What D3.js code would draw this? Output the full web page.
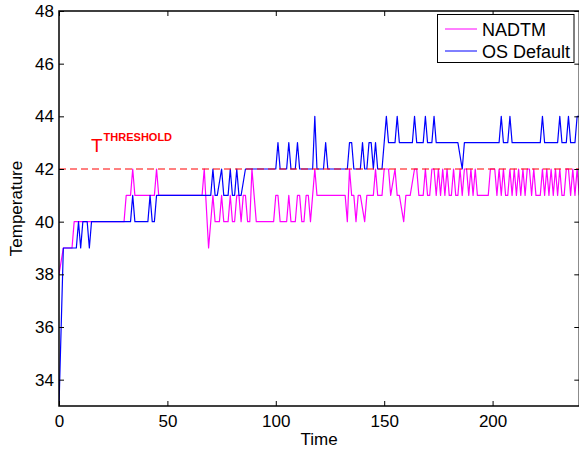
<!DOCTYPE html>
<html>
<head>
<meta charset="utf-8">
<script src="https://cdn.jsdelivr.net/npm/d3@7/dist/d3.min.js"></script>
<style>
  html, body { margin: 0; padding: 0; background: #fff; }
  svg { display: block; font-family: "Liberation Sans", Arial, Helvetica, sans-serif; }
</style>
</head>
<body>
<svg id="chart" width="579" height="451"></svg>
<script>
// ---- data: [time, temperature] ----
const xTicks = [0, 50, 100, 150, 200];
const yTicks = [34, 36, 38, 40, 42, 44, 46, 48];
const xDomain = [0, 240];
const yDomain = [33, 48];
const threshold = 42;
const seriesNames = ["NADTM", "OS Default"];

const nadtm = [[0,38],[2,39],[6,39],[7,40],[30,40],[31,41],[33,41],[34,42],[35,41],[44,41],[45,42],[46,41],[66,41],[67,42],[69,39],[71,41],[72,40],[74,40],[75,41],[76,40],[78,40],[79,41],[80,40],[81,40],[82,41],[83,41],[84,40],[85,41],[86,41],[87,40],[88,40],[89,42],[90,41],[91,40],[99,40],[100,41],[101,41],[102,40],[105,40],[106,41],[107,40],[109,40],[110,41],[111,41],[112,40],[113,40],[114,41],[115,41],[116,40],[118,42],[119,41],[132,41],[133,40],[134,42],[135,41],[136,41],[137,40],[138,41],[139,41],[141,40],[142,41],[145,41],[146,42],[147,41],[149,41],[150,42],[152,42],[153,41],[155,42],[156,41],[157,41],[159,40],[160,41],[162,41],[164,42],[165,42],[166,41],[168,41],[169,42],[170,41],[171,41],[172,42],[173,42],[174,41],[175,42],[176,41],[177,42],[178,41],[179,42],[180,41],[181,41],[182,42],[183,41],[184,41],[185,42],[186,41],[187,42],[188,42],[189,41],[190,42],[191,41],[192,42],[193,41],[198,41],[199,42],[201,42],[202,41],[203,42],[204,41],[205,42],[206,41],[207,41],[208,42],[209,41],[210,42],[211,41],[212,42],[213,41],[214,42],[215,41],[216,42],[217,42],[218,41],[219,42],[220,41],[222,41],[223,42],[224,41],[225,42],[226,41],[227,42],[228,41],[229,42],[230,41],[231,42],[232,41],[233,41],[234,42],[235,42],[236,41],[237,42],[238,41],[239,42],[240,41]];

const osDefault = [[0,33],[2,39],[8,39],[9,40],[10,39],[11,40],[13,40],[14,39],[15,40],[33,40],[34,41],[35,40],[41,40],[42,41],[43,40],[44,40],[45,41],[70,41],[71,42],[72,41],[73,41],[75,42],[76,41],[78,41],[79,42],[80,41],[81,41],[82,42],[83,41],[84,41],[86,42],[100,42],[101,43],[102,42],[105,42],[106,43],[107,42],[109,42],[110,43],[111,42],[117,42],[118,44],[119,42],[122,42],[123,43],[124,42],[133,42],[134,43],[135,43],[136,42],[139,42],[140,43],[141,42],[142,42],[143,43],[144,43],[145,42],[146,43],[147,42],[149,42],[151,44],[152,43],[155,43],[156,44],[157,43],[163,43],[164,44],[165,43],[168,43],[169,44],[170,43],[172,43],[173,44],[174,43],[184,43],[186,42],[187,43],[203,43],[204,44],[205,43],[207,43],[208,44],[209,43],[222,43],[223,44],[224,43],[230,43],[231,44],[232,43],[234,43],[235,44],[236,43],[238,43],[239,44],[240,44]];

// ---- layout ----
const svg = d3.select("#chart");
const pL = 59, pR = 579.3, pT = 11, pB = 406;
const x = d3.scaleLinear().domain(xDomain).range([pL, pR]);
const y = d3.scaleLinear().domain(yDomain).range([pB, pT]);

svg.append("rect").attr("x", 0).attr("y", 0).attr("width", 579).attr("height", 451).attr("fill", "#fff");

svg.append("clipPath").attr("id", "plotclip")
  .append("rect").attr("x", pL).attr("y", pT).attr("width", pR - pL).attr("height", pB - pT);

const plot = svg.append("g").attr("clip-path", "url(#plotclip)");

const line = d3.line().x(d => x(d[0])).y(d => y(d[1]));

plot.append("path").datum(nadtm).attr("d", line)
  .attr("fill", "none").attr("stroke", "#ff00ff").attr("stroke-width", 1.2).attr("stroke-linejoin", "round");
plot.append("path").datum(osDefault).attr("d", line)
  .attr("fill", "none").attr("stroke", "#0000ff").attr("stroke-width", 1.2).attr("stroke-linejoin", "round");

// threshold line
plot.append("line")
  .attr("x1", x(xDomain[0])).attr("x2", x(xDomain[1]))
  .attr("y1", y(threshold)).attr("y2", y(threshold))
  .attr("stroke", "#ff0000").attr("stroke-width", 1).attr("stroke-dasharray", "7,4");

// threshold annotation
const ann = svg.append("text").attr("x", 91).attr("y", 152).attr("fill", "#ff0000")
  .style("font-size", "19px");
ann.append("tspan").text("T");
ann.append("tspan").attr("dx", 1).attr("dy", -11).style("font-size", "11px").style("font-weight", "bold").text("THRESHOLD");

// axes
const fontSize = "17px";
const gx = svg.append("g").attr("transform", `translate(0,${pB})`)
  .call(d3.axisBottom(x).tickValues(xTicks).tickFormat(d3.format("d")).tickSizeInner(-5).tickSizeOuter(0).tickPadding(9));
const gxTop = svg.append("g").attr("transform", `translate(0,${pT})`)
  .call(d3.axisTop(x).tickValues(xTicks).tickFormat("").tickSizeInner(-5).tickSizeOuter(0));
const gy = svg.append("g").attr("transform", `translate(${pL},0)`)
  .call(d3.axisLeft(y).tickValues(yTicks).tickFormat(d3.format("d")).tickSizeInner(-5).tickSizeOuter(0).tickPadding(5));
const gyRight = svg.append("g").attr("transform", `translate(${pR},0)`)
  .call(d3.axisRight(y).tickValues(yTicks).tickFormat("").tickSizeInner(-5).tickSizeOuter(0));

[gx, gxTop, gy, gyRight].forEach(g => {
  g.select(".domain").remove();
  g.selectAll(".tick line").attr("stroke", "#000").attr("stroke-width", 1);
  g.selectAll("text").attr("fill", "#000").style("font-size", fontSize).style("font-family", "Liberation Sans, Arial, sans-serif");
});

// axis box
svg.append("rect").attr("x", pL).attr("y", pT).attr("width", pR - pL).attr("height", pB - pT)
  .attr("fill", "none").attr("stroke", "#000").attr("stroke-width", 1.5);

// axis titles
svg.append("text").attr("x", (pL + pR) / 2).attr("y", 445).attr("text-anchor", "middle")
  .style("font-size", fontSize).text("Time");
svg.append("text").attr("transform", `translate(22,${(pT + pB) / 2}) rotate(-90)`).attr("text-anchor", "middle")
  .style("font-size", fontSize).text("Temperature");

// legend
const lg = svg.append("g");
lg.append("rect").attr("x", 437.5).attr("y", 14.5).attr("width", 136.5).attr("height", 48)
  .attr("fill", "#fff").attr("stroke", "#000").attr("stroke-width", 1);
const legColors = ["#ff00ff", "#0000ff"];
seriesNames.forEach((name, i) => {
  const yy = 29 + i * 22;
  lg.append("line").attr("x1", 445).attr("x2", 477).attr("y1", yy).attr("y2", yy)
    .attr("stroke", legColors[i]).attr("stroke-width", 1);
  lg.append("text").attr("x", 482).attr("y", yy + 6.5).style("font-size", "18px").text(name);
});
</script>
</body>
</html>
